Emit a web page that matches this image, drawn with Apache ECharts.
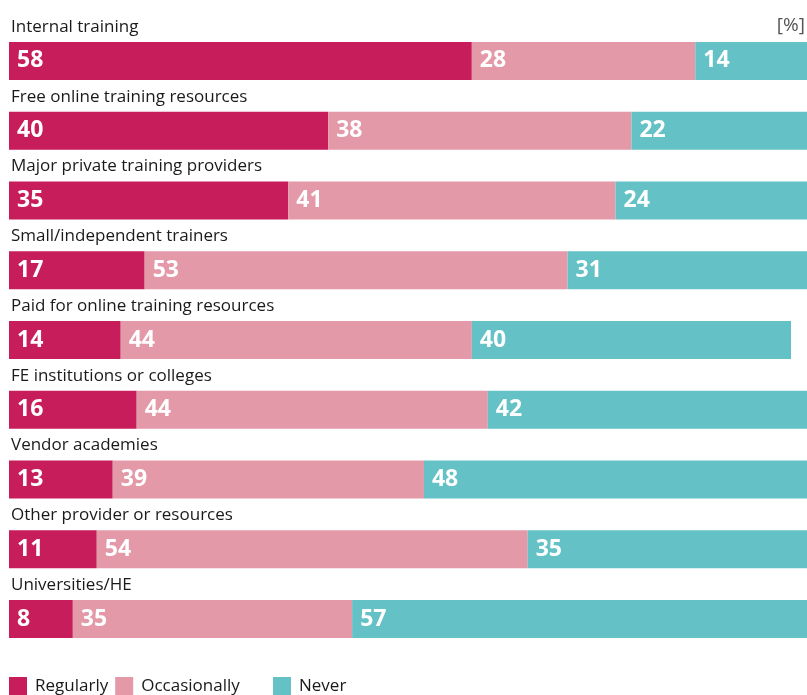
<!DOCTYPE html>
<html>
<head>
<meta charset="utf-8">
<script src="https://cdn.jsdelivr.net/npm/echarts@6/dist/echarts.min.js"></script>
<style>
  html, body { margin: 0; padding: 0; background: #fff; }
  #chart { width: 807px; height: 695px; }
</style>
</head>
<body>
<div id="chart"></div>
<script>
// Training sources and how often each is used (%)
const categories = [
  'Internal training',
  'Free online training resources',
  'Major private training providers',
  'Small/independent trainers',
  'Paid for online training resources',
  'FE institutions or colleges',
  'Vendor academies',
  'Other provider or resources',
  'Universities/HE'
];
const regularly    = [58, 40, 35, 17, 14, 16, 13, 11, 8];
const occasionally = [28, 38, 41, 53, 44, 44, 39, 54, 35];
const never        = [14, 22, 24, 31, 40, 42, 48, 35, 57];

const FONT = '"Open Sans", sans-serif';
const colors = { Regularly: '#c81d5b', Occasionally: '#e399a8', Never: '#64c1c5' };

function barSeries(name, data) {
  return {
    name: name,
    type: 'bar',
    stack: 'total',
    data: data,
    barWidth: 38,
    clip: true,
    itemStyle: { color: colors[name] },
    label: {
      show: true,
      position: 'insideLeft',
      distance: 8,
      color: '#fff',
      fontFamily: FONT,
      fontWeight: 'bold',
      fontSize: 23,
      padding: [2, 0, 0, 0]
    },
    emphasis: { disabled: true }
  };
}

const legendText = { fontFamily: FONT, fontSize: 17, color: '#1a1a1a', padding: [0, 0, 0, 3] };

const chart = echarts.init(document.getElementById('chart'), null, { renderer: 'canvas' });
chart.setOption({
  animation: false,
  title: {
    text: '[%]',
    right: 2,
    top: 16,
    padding: 0,
    textStyle: { fontFamily: FONT, fontSize: 19, fontWeight: 'normal', color: '#555' }
  },
  legend: [
    {
      data: ['Regularly', 'Occasionally'],
      left: 9,
      top: 677,
      padding: 0,
      itemWidth: 18,
      itemHeight: 18,
      itemGap: 7,
      icon: 'rect',
      textStyle: legendText
    },
    {
      data: ['Never'],
      left: 273,
      top: 677,
      padding: 0,
      itemWidth: 18,
      itemHeight: 18,
      icon: 'rect',
      textStyle: legendText
    }
  ],
  grid: { left: 9, right: 0, top: 26, height: 628, containLabel: false },
  xAxis: { type: 'value', min: 0, max: 100, show: false },
  yAxis: {
    type: 'category',
    inverse: true,
    data: categories,
    axisLine: { show: false },
    axisTick: { show: false },
    splitLine: { show: false },
    axisLabel: {
      inside: true,
      margin: 2,
      align: 'left',
      verticalAlign: 'bottom',
      lineHeight: 18,
      padding: [0, 0, 25, 0],
      fontFamily: FONT,
      fontSize: 17,
      color: '#1a1a1a'
    }
  },
  series: [
    barSeries('Regularly', regularly),
    barSeries('Occasionally', occasionally),
    barSeries('Never', never)
  ]
});
</script>
</body>
</html>
